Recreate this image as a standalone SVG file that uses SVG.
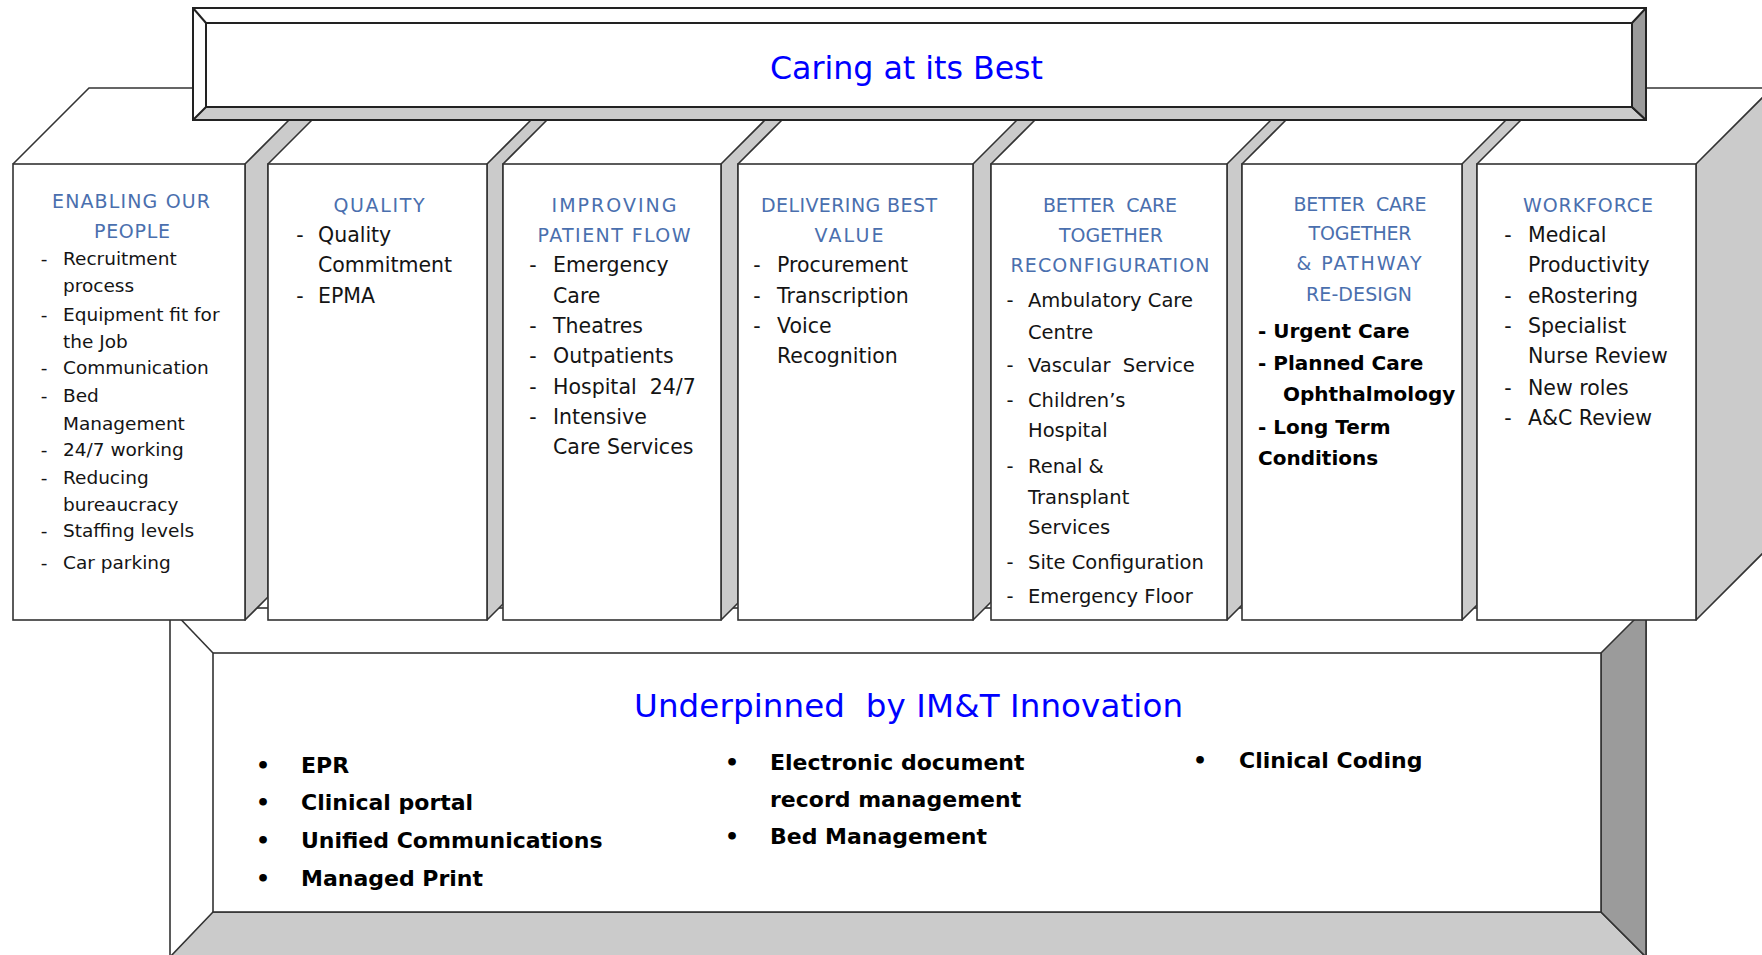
<svg xmlns="http://www.w3.org/2000/svg" width="1762" height="955" viewBox="0 0 1762 955">
<style>
.ln{fill:none;stroke:#333;stroke-width:1.6}
.lt{fill:#cbcbcb;stroke:#333;stroke-width:1.6;stroke-linejoin:round}
.dk{fill:#9b9b9b;stroke:#333;stroke-width:1.6;stroke-linejoin:round}
.wh{fill:#fff;stroke:#333;stroke-width:1.6}
.bn{stroke:#222;stroke-width:2}
text{font-family:"DejaVu Sans","Liberation Sans",sans-serif}
.hd{font-size:19px;fill:#4a6fae;text-anchor:middle}
.it{font-size:20.5px;fill:#141414}
.c1{font-size:18.5px}
.c5{font-size:19.5px}
.ds{text-anchor:middle}
.bd{font-weight:bold;fill:#000}
.b6{font-size:20px}
.b8{font-size:22px}
.bl{fill:#0000ff}
.pre{white-space:pre}
</style>
<rect width="1762" height="955" fill="#fff"/>

<g id="frame">
  <polygon class="lt" points="1696,164 1772,88 1772,544 1696,620"/>
  <polyline class="ln" points="13,164 89,88 200,88"/>
  <line class="ln" x1="1640" y1="88" x2="1762" y2="88"/>
</g>

<g id="foundation">
  <rect class="wh" x="170" y="608" width="1476" height="360"/>
  <polygon class="lt" points="213,912 1601,912 1646,957 170,957"/>
  <polygon class="dk" points="1601,653 1646,608 1646,957 1601,912"/>
  <rect class="wh" x="213" y="653" width="1388" height="259"/>
  <line class="ln" x1="170" y1="608" x2="213" y2="653"/>
</g>

<g id="connectors">
  <polygon class="lt" points="245,164 289,120 312,120 268,164 268,597 245,620"/>
  <polygon class="lt" points="487,164 531,120 547,120 503,164 503,604 487,620"/>
  <polygon class="lt" points="721,164 765,120 782,120 738,164 738,603 721,620"/>
  <polygon class="lt" points="973,164 1017,120 1035,120 991,164 991,602 973,620"/>
  <polygon class="lt" points="1227,164 1271,120 1286,120 1242,164 1242,605 1227,620"/>
  <polygon class="lt" points="1462,164 1506,120 1521,120 1477,164 1477,605 1462,620"/>
</g>

<g id="banner">
  <rect class="wh bn" x="193" y="8" width="1453" height="112"/>
  <polygon class="lt bn" points="206,107 1632,107 1646,120 193,120"/>
  <polygon class="dk bn" points="1632,23 1646,8 1646,120 1632,107"/>
  <rect class="wh bn" x="206" y="23" width="1426" height="84"/>
  <line class="ln bn" x1="193" y1="8" x2="206" y2="23"/>
  <text class="bl" x="770" y="79" font-size="31.7" textLength="273">Caring at its Best</text>
</g>

<g id="col-enabling-our-people">
  <rect class="wh" x="13" y="164" width="232" height="456"/>
  <text class="hd" x="131" y="208" textLength="158">ENABLING OUR</text>
  <text class="hd" x="132" y="238" textLength="76">PEOPLE</text>
  <g class="it c1">
    <text class="ds" x="44" y="265">-</text><text x="63" y="265">Recruitment</text>
    <text x="63" y="292">process</text>
    <text class="ds" x="44" y="321">-</text><text x="63" y="321">Equipment fit for</text>
    <text x="63" y="348">the Job</text>
    <text class="ds" x="44" y="374">-</text><text x="63" y="374">Communication</text>
    <text class="ds" x="44" y="402">-</text><text x="63" y="402">Bed</text>
    <text x="63" y="430">Management</text>
    <text class="ds" x="44" y="456">-</text><text x="63" y="456">24/7 working</text>
    <text class="ds" x="44" y="484">-</text><text x="63" y="484">Reducing</text>
    <text x="63" y="511">bureaucracy</text>
    <text class="ds" x="44" y="537">-</text><text x="63" y="537">Staffing levels</text>
    <text class="ds" x="44" y="569">-</text><text x="63" y="569">Car parking</text>
  </g>
</g>

<g id="col-quality">
  <rect class="wh" x="268" y="164" width="219" height="456"/>
  <text class="hd" x="379" y="212" textLength="91">QUALITY</text>
  <g class="it">
    <text class="ds" x="300" y="242">-</text><text x="318" y="242">Quality</text>
    <text x="318" y="272">Commitment</text>
    <text class="ds" x="300" y="303">-</text><text x="318" y="303">EPMA</text>
  </g>
</g>

<g id="col-improving-patient-flow">
  <rect class="wh" x="503" y="164" width="218" height="456"/>
  <text class="hd" x="614" y="212" textLength="125">IMPROVING</text>
  <text class="hd" x="614" y="242" textLength="153">PATIENT FLOW</text>
  <g class="it">
    <text class="ds" x="533" y="272">-</text><text x="553" y="272">Emergency</text>
    <text x="553" y="303">Care</text>
    <text class="ds" x="533" y="333">-</text><text x="553" y="333">Theatres</text>
    <text class="ds" x="533" y="363">-</text><text x="553" y="363">Outpatients</text>
    <text class="ds" x="533" y="394">-</text><text class="pre" x="553" y="394">Hospital  24/7</text>
    <text class="ds" x="533" y="424">-</text><text x="553" y="424">Intensive</text>
    <text x="553" y="454">Care Services</text>
  </g>
</g>

<g id="col-delivering-best-value">
  <rect class="wh" x="738" y="164" width="235" height="456"/>
  <text class="hd" x="849" y="212" textLength="176">DELIVERING BEST</text>
  <text class="hd" x="849" y="242" textLength="69">VALUE</text>
  <g class="it">
    <text class="ds" x="757" y="272">-</text><text x="777" y="272">Procurement</text>
    <text class="ds" x="757" y="303">-</text><text x="777" y="303">Transcription</text>
    <text class="ds" x="757" y="333">-</text><text x="777" y="333">Voice</text>
    <text x="777" y="363">Recognition</text>
  </g>
</g>

<g id="col-better-care-reconfiguration">
  <rect class="wh" x="991" y="164" width="236" height="456"/>
  <text class="hd pre" x="1110" y="212" textLength="134">BETTER  CARE</text>
  <text class="hd" x="1111" y="242" textLength="104">TOGETHER</text>
  <text class="hd" x="1110" y="272" textLength="199">RECONFIGURATION</text>
  <g class="it c5">
    <text class="ds" x="1010" y="307">-</text><text x="1028" y="307">Ambulatory Care</text>
    <text x="1028" y="339">Centre</text>
    <text class="ds" x="1010" y="372">-</text><text class="pre" x="1028" y="372">Vascular  Service</text>
    <text class="ds" x="1010" y="407">-</text><text x="1028" y="407">Children’s</text>
    <text x="1028" y="437">Hospital</text>
    <text class="ds" x="1010" y="473">-</text><text x="1028" y="473">Renal &amp;</text>
    <text x="1028" y="504">Transplant</text>
    <text x="1028" y="534">Services</text>
    <text class="ds" x="1010" y="569">-</text><text x="1028" y="569">Site Configuration</text>
    <text class="ds" x="1010" y="603">-</text><text x="1028" y="603">Emergency Floor</text>
  </g>
</g>

<g id="col-better-care-pathway">
  <rect class="wh" x="1242" y="164" width="220" height="456"/>
  <text class="hd pre" x="1360" y="211" textLength="133">BETTER  CARE</text>
  <text class="hd" x="1360" y="240" textLength="103">TOGETHER</text>
  <text class="hd" x="1359" y="270" textLength="125">&amp; PATHWAY</text>
  <text class="hd" x="1359" y="301" textLength="106">RE-DESIGN</text>
  <g class="bd b6">
    <text x="1258" y="338">- Urgent Care</text>
    <text x="1258" y="370">- Planned Care</text>
    <text x="1283" y="401">Ophthalmology</text>
    <text x="1258" y="434">- Long Term</text>
    <text x="1258" y="465">Conditions</text>
  </g>
</g>

<g id="col-workforce">
  <rect class="wh" x="1477" y="164" width="219" height="456"/>
  <text class="hd" x="1588" y="212" textLength="130">WORKFORCE</text>
  <g class="it">
    <text class="ds" x="1508" y="242">-</text><text x="1528" y="242">Medical</text>
    <text x="1528" y="272">Productivity</text>
    <text class="ds" x="1508" y="303">-</text><text x="1528" y="303">eRostering</text>
    <text class="ds" x="1508" y="333">-</text><text x="1528" y="333">Specialist</text>
    <text x="1528" y="363">Nurse Review</text>
    <text class="ds" x="1508" y="395">-</text><text x="1528" y="395">New roles</text>
    <text class="ds" x="1508" y="425">-</text><text x="1528" y="425">A&amp;C Review</text>
  </g>
</g>

<g id="underpinned">
  <text class="bl pre" x="634" y="717" font-size="32.5" textLength="549">Underpinned  by IM&amp;T Innovation</text>
  <g class="bd b8">
    <text class="ds" x="263" y="773">•</text><text x="301" y="773">EPR</text>
    <text class="ds" x="263" y="810">•</text><text x="301" y="810">Clinical portal</text>
    <text class="ds" x="263" y="848">•</text><text x="301" y="848">Unified Communications</text>
    <text class="ds" x="263" y="886">•</text><text x="301" y="886">Managed Print</text>
    <text class="ds" x="732" y="770">•</text><text x="770" y="770">Electronic document</text>
    <text x="770" y="807">record management</text>
    <text class="ds" x="732" y="844">•</text><text x="770" y="844">Bed Management</text>
    <text class="ds" x="1200" y="768">•</text><text x="1239" y="768">Clinical Coding</text>
  </g>
</g>
</svg>
